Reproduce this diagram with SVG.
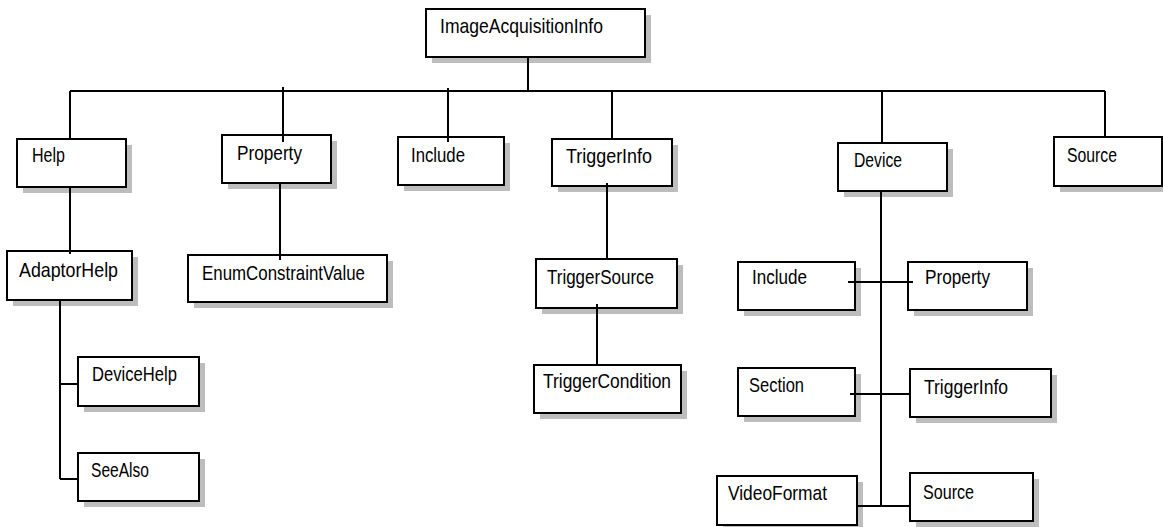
<svg xmlns="http://www.w3.org/2000/svg" width="1163" height="527" viewBox="0 0 1163 527">
<style>
.box{fill:#fff;stroke:#000;stroke-width:2}
.sh{fill:#bdbdbd}
.t{font-family:"Liberation Sans",Arial,sans-serif;font-size:21px;fill:#000}
.c{stroke:#000;stroke-width:2;fill:none}
</style>
<rect width="1163" height="527" fill="#fff"/>
<g id="n-imageacquisitioninfo"><rect class="sh" x="432" y="15" width="219" height="48"/><rect class="box" x="426" y="9" width="219" height="48"/><text class="t" x="440" y="33" textLength="163" lengthAdjust="spacingAndGlyphs">ImageAcquisitionInfo</text></g>
<g id="n-help"><rect class="sh" x="23" y="145" width="109" height="48"/><rect class="box" x="17" y="139" width="109" height="48"/><text class="t" x="32" y="162" textLength="33" lengthAdjust="spacingAndGlyphs">Help</text></g>
<g id="n-property"><rect class="sh" x="228" y="141" width="109" height="48"/><rect class="box" x="222" y="135" width="109" height="48"/><text class="t" x="237" y="160" textLength="65" lengthAdjust="spacingAndGlyphs">Property</text></g>
<g id="n-include"><rect class="sh" x="404" y="143" width="106" height="48"/><rect class="box" x="398" y="137" width="106" height="48"/><text class="t" x="411" y="162" textLength="54" lengthAdjust="spacingAndGlyphs">Include</text></g>
<g id="n-triggerinfo"><rect class="sh" x="558" y="145" width="120" height="47"/><rect class="box" x="552" y="139" width="120" height="47"/><text class="t" x="566" y="163" textLength="86" lengthAdjust="spacingAndGlyphs">TriggerInfo</text></g>
<g id="n-device"><rect class="sh" x="844" y="149" width="109" height="48"/><rect class="box" x="838" y="143" width="109" height="48"/><text class="t" x="854" y="167" textLength="48" lengthAdjust="spacingAndGlyphs">Device</text></g>
<g id="n-source"><rect class="sh" x="1060" y="143" width="108" height="49"/><rect class="box" x="1054" y="137" width="108" height="49"/><text class="t" x="1067" y="162" textLength="50" lengthAdjust="spacingAndGlyphs">Source</text></g>
<g id="n-adaptorhelp"><rect class="sh" x="13" y="257" width="125" height="49"/><rect class="box" x="7" y="251" width="125" height="49"/><text class="t" x="19" y="277" textLength="99" lengthAdjust="spacingAndGlyphs">AdaptorHelp</text></g>
<g id="n-enumconstraintvalue"><rect class="sh" x="194" y="261" width="199" height="47"/><rect class="box" x="188" y="255" width="199" height="47"/><text class="t" x="202" y="280" textLength="163" lengthAdjust="spacingAndGlyphs">EnumConstraintValue</text></g>
<g id="n-devicehelp"><rect class="sh" x="84" y="363" width="121" height="49"/><rect class="box" x="78" y="357" width="121" height="49"/><text class="t" x="92" y="381" textLength="85" lengthAdjust="spacingAndGlyphs">DeviceHelp</text></g>
<g id="n-seealso"><rect class="sh" x="84" y="459" width="121" height="48"/><rect class="box" x="78" y="453" width="121" height="48"/><text class="t" x="91" y="477" textLength="58" lengthAdjust="spacingAndGlyphs">SeeAlso</text></g>
<g id="n-triggersource"><rect class="sh" x="542" y="265" width="141" height="49"/><rect class="box" x="536" y="259" width="141" height="49"/><text class="t" x="547" y="284" textLength="107" lengthAdjust="spacingAndGlyphs">TriggerSource</text></g>
<g id="n-triggercondition"><rect class="sh" x="540" y="371" width="147" height="48"/><rect class="box" x="534" y="365" width="147" height="48"/><text class="t" x="543" y="388" textLength="128" lengthAdjust="spacingAndGlyphs">TriggerCondition</text></g>
<g id="n-dev-include"><rect class="sh" x="744" y="268" width="117" height="48"/><rect class="box" x="738" y="262" width="117" height="48"/><text class="t" x="752" y="284" textLength="55" lengthAdjust="spacingAndGlyphs">Include</text></g>
<g id="n-dev-property"><rect class="sh" x="914" y="268" width="119" height="48"/><rect class="box" x="908" y="262" width="119" height="48"/><text class="t" x="925" y="284" textLength="65" lengthAdjust="spacingAndGlyphs">Property</text></g>
<g id="n-dev-section"><rect class="sh" x="744" y="374" width="117" height="48"/><rect class="box" x="738" y="368" width="117" height="48"/><text class="t" x="749" y="392" textLength="55" lengthAdjust="spacingAndGlyphs">Section</text></g>
<g id="n-dev-triggerinfo"><rect class="sh" x="916" y="375" width="141" height="48"/><rect class="box" x="910" y="369" width="141" height="48"/><text class="t" x="924" y="394" textLength="84" lengthAdjust="spacingAndGlyphs">TriggerInfo</text></g>
<g id="n-dev-videoformat"><rect class="sh" x="723" y="482" width="140" height="49"/><rect class="box" x="717" y="476" width="140" height="49"/><text class="t" x="728" y="500" textLength="99" lengthAdjust="spacingAndGlyphs">VideoFormat</text></g>
<g id="n-dev-source"><rect class="sh" x="916" y="479" width="123" height="48"/><rect class="box" x="910" y="473" width="123" height="48"/><text class="t" x="923" y="499" textLength="51" lengthAdjust="spacingAndGlyphs">Source</text></g>
<g id="connectors">
<path class="c" d="M528 57V91M70 91H1105M70 91V139M283 87V142M448 88V142M612 91V139M882 91V143M1105 91V137"/>
<path class="c" d="M70 187V254M280 183V260M60 300V479M60 384H78M60 479H78"/>
<path class="c" d="M607 183V259M597 304V366"/>
<path class="c" d="M881 191V506M848 282H913M850 394H910M857 506H910"/>
</g>
</svg>
